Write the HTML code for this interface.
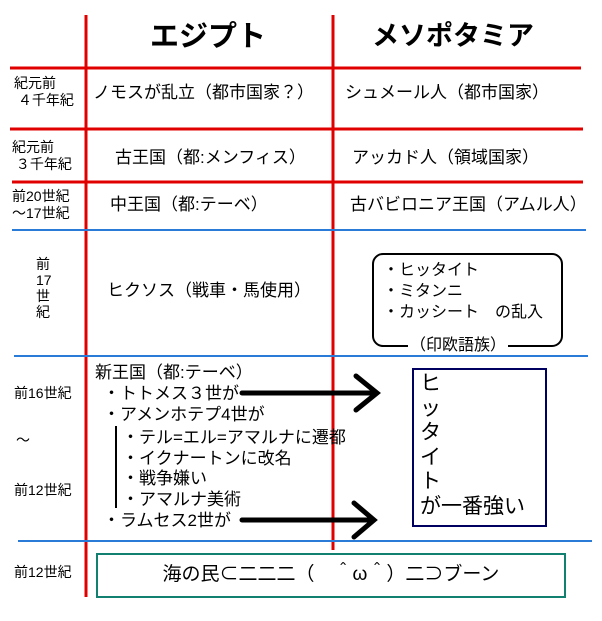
<!DOCTYPE html>
<html><head><meta charset="utf-8"><style>
body{margin:0;background:#fff;}
#c{position:relative;width:602px;height:621px;overflow:hidden;font-family:"Liberation Sans","Noto Sans CJK JP",sans-serif;color:#000;}
.t{position:absolute;white-space:nowrap;line-height:1;}
.m{font-size:17px;}
.l{font-size:14px;line-height:17px;}
</style></head><body><div id="c">
<svg width="602" height="621" style="position:absolute;left:0;top:0">
<g stroke="#e00000" stroke-width="3">
<line x1="86" y1="15" x2="86" y2="597"/>
<line x1="333" y1="15" x2="333" y2="550"/>
<line x1="10" y1="68" x2="581" y2="68"/>
<line x1="10" y1="129" x2="583" y2="129"/>
<line x1="12" y1="182" x2="583" y2="182"/>
</g>
<g stroke="#2a7ad8" stroke-width="2">
<line x1="12" y1="230" x2="586" y2="230"/>
<line x1="14" y1="356" x2="588" y2="356"/>
<line x1="18" y1="541" x2="592" y2="541"/>
</g>
<rect x="373" y="254" width="189" height="92" rx="10" fill="none" stroke="#000" stroke-width="2"/>
<rect x="413" y="369" width="133" height="157" fill="none" stroke="#000060" stroke-width="2"/>
<rect x="97" y="554" width="468" height="43" fill="none" stroke="#128070" stroke-width="2"/>
<line x1="116" y1="426" x2="116" y2="508" stroke="#000" stroke-width="2"/>
<g stroke="#000" stroke-width="5" fill="none" stroke-linecap="round">
<line x1="242" y1="393" x2="376" y2="393"/>
<polyline points="356,376 377,393 356,410"/>
<line x1="242" y1="520" x2="373" y2="520"/>
<polyline points="354,503 374,520 354,537"/>
</g>
</svg>
<div class="t" style="left:150px;top:23px;font-size:29px;font-weight:bold">エジプト</div>
<div class="t" style="left:372px;top:23px;font-size:27px;font-weight:bold">メソポタミア</div>

<div class="t l" style="left:14px;top:75px">紀元前<br>&nbsp;４千年紀</div>
<div class="t m" style="left:93px;top:84px">ノモスが乱立（都市国家？）</div>
<div class="t m" style="left:345px;top:84px">シュメール人（都市国家）</div>

<div class="t l" style="left:12px;top:139px">紀元前<br>&nbsp;３千年紀</div>
<div class="t m" style="left:115px;top:149px">古王国（都:メンフィス）</div>
<div class="t m" style="left:352px;top:149px">アッカド人（領域国家）</div>

<div class="t l" style="left:12px;top:188px">前20世紀<br>～17世紀</div>
<div class="t m" style="left:110px;top:196px">中王国（都:テーベ）</div>
<div class="t m" style="left:350px;top:196px">古バビロニア王国（アムル人）</div>

<div class="t l" style="left:36px;top:256px;line-height:16px">前<br>17<br>世<br>紀</div>
<div class="t m" style="left:107px;top:282px">ヒクソス（戦車・馬使用）</div>
<div class="t" style="left:383px;top:260px;font-size:16px;line-height:21px">・ヒッタイト<br>・ミタンニ<br>・カッシート　の乱入</div>
<div class="t" style="left:408px;top:338px;font-size:16px;background:#fff;padding:0 2px">（印欧語族）</div>

<div class="t l" style="left:14px;top:385px">前16世紀</div>
<div class="t l" style="left:16px;top:432px">～</div>
<div class="t l" style="left:14px;top:482px">前12世紀</div>
<div class="t m" style="left:95px;top:364px">新王国（都:テーベ）</div>
<div class="t m" style="left:103px;top:385px">・トトメス３世が</div>
<div class="t m" style="left:103px;top:406px">・アメンホテプ4世が</div>
<div class="t m" style="left:122px;top:428px;line-height:20.5px">・テル=エル=アマルナに遷都<br>・イクナートンに改名<br>・戦争嫌い<br>・アマルナ美術</div>
<div class="t m" style="left:103px;top:512px">・ラムセス2世が</div>

<div class="t" style="left:420px;top:372px;font-size:21px;line-height:24.5px">ヒ<br>ッ<br>タ<br>イ<br>ト<br>が一番強い</div>

<div class="t l" style="left:14px;top:564px">前12世紀</div>
<div class="t" style="left:97px;top:565px;width:468px;text-align:center;font-size:19px">海の民⊂二二二（　＾ω＾）二⊃ブーン</div>
</div></body></html>
